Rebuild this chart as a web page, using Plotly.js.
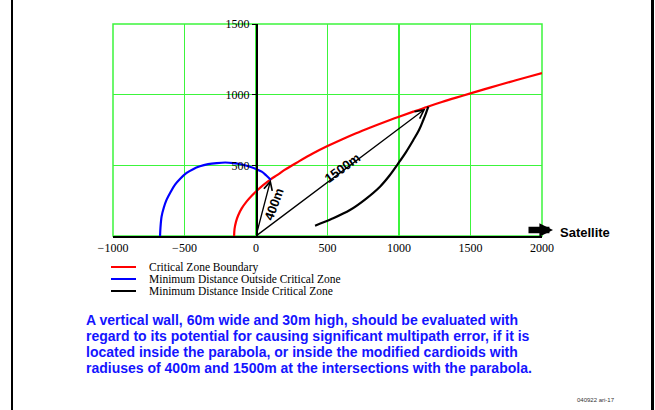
<!DOCTYPE html>
<html><head><meta charset="utf-8">
<script src="https://cdn.plot.ly/plotly-3.0.1.min.js"></script>
<style>html,body{margin:0;padding:0;background:#fff}#chart{width:655px;height:410px}</style>
</head><body><div id="chart"></div>
<script>
// ---- data ----
const xTicks = [-1000, -500, 0, 500, 1000, 1500, 2000];
const yTicks = [500, 1000, 1500];
const seriesNames = ['Critical Zone Boundary', 'Minimum Distance Outside Critical Zone', 'Minimum Distance Inside Critical Zone'];
const seriesColors = ['#ff0000', '#0000ff', '#000000'];

const boundaryX = [-153, -150, -140, -125, -100, -65, -25, 0, 50, 105, 150, 200, 300, 400, 500, 600, 700, 800, 900, 1000, 1100, 1200, 1300, 1400, 1500, 1600, 1700, 1800, 1900, 2000];
const boundaryY = [0, 50, 100, 145, 195, 245, 290, 315, 360, 403, 432, 468, 528, 585, 636, 683, 727, 768, 807, 844, 880, 915, 948, 979, 1009, 1039, 1068, 1097, 1125, 1153];

const outsideX = [-671, -668, -660, -645, -625, -598, -566, -530, -485, -440, -392, -335, -275, -215, -159, -100, -42, 0, 40, 72, 103];
const outsideY = [0, 60, 139, 200, 257, 310, 363, 405, 446, 473, 493, 508, 516, 520, 516, 506, 490, 474, 455, 428, 398];

const insideX = [413, 531, 657, 762, 867, 934, 995, 1049, 1100, 1140, 1170, 1189, 1205];
const insideY = [73, 122, 184, 258, 349, 428, 514, 594, 679, 750, 821, 870, 915];

const radiusLabels = ['400m', '1500m'];
const radiusTipX = [103, 1185];
const radiusTipY = [398, 900];
const radiusLabelX = [126, 599];
const radiusLabelY = [221, 481];
const radiusLabelAngle = [-70, -36];

const noteLines = [
  'A vertical wall, 60m wide and 30m high, should be evaluated with',
  'regard to its potential for causing significant multipath error, if it is',
  'located inside the parabola, or inside the modified cardioids with',
  'radiuses of 400m and 1500m at the intersections with the parabola.'
];
const footer = '040922 ari-17';
const satelliteLabel = 'Satellite';

// ---- layout helpers (pixel -> paper) ----
const W = 655, H = 410, ML = 113, MR = 113, MT = 24, MB = 174;
const PW = W - ML - MR, PH = H - MT - MB;
const px = v => (v - ML) / PW;
const py = v => (H - MB - v) / PH;

const serif = 'Liberation Serif, Times New Roman, serif';
const sans = 'Liberation Sans, Arial, sans-serif';

const traces = [
  {x: boundaryX, y: boundaryY},
  {x: outsideX, y: outsideY},
  {x: insideX, y: insideY}
].map((t, i) => ({
  x: t.x, y: t.y, type: 'scatter', mode: 'lines', name: seriesNames[i],
  line: {color: seriesColors[i], width: 2.2, shape: 'spline', smoothing: 1},
  showlegend: false, hoverinfo: 'skip'
}));

const annotations = [];
const shapes = [];

// radius arrows from origin
radiusLabels.forEach((lab, i) => {
  annotations.push({
    x: radiusTipX[i], y: radiusTipY[i], ax: 0, ay: 0, axref: 'x', ayref: 'y', xref: 'x', yref: 'y',
    showarrow: true, arrowhead: 5, arrowsize: 1.3, arrowwidth: 1.3, arrowcolor: '#000', standoff: 0, startstandoff: 0, text: ''
  });
  annotations.push({
    x: radiusLabelX[i], y: radiusLabelY[i], xref: 'x', yref: 'y', text: '<b>' + lab + '</b>', showarrow: false,
    textangle: radiusLabelAngle[i], font: {family: sans, size: 13, color: '#000'}
  });
});

// Satellite arrow + label
annotations.push({
  x: px(553), y: py(230), ax: px(527), ay: py(230), axref: 'paper', ayref: 'paper', xref: 'paper', yref: 'paper',
  showarrow: true, arrowhead: 2, arrowsize: 0.42, arrowwidth: 6.5, arrowcolor: '#000', standoff: 0, text: ''
});
annotations.push({
  x: px(558), y: py(232), xref: 'paper', yref: 'paper', xanchor: 'left', yanchor: 'middle',
  text: '<b>' + satelliteLabel + '</b>', showarrow: false, font: {family: sans, size: 13, color: '#000'}
});

// manual legend
const legendRows = [267, 279, 291];
seriesNames.forEach((n, i) => {
  shapes.push({type: 'line', xref: 'paper', yref: 'paper', x0: px(111), x1: px(136), y0: py(legendRows[i]), y1: py(legendRows[i]),
    line: {color: seriesColors[i], width: 2}});
  annotations.push({x: px(147), y: py(legendRows[i]), xref: 'paper', yref: 'paper', xanchor: 'left', yanchor: 'middle',
    text: n, showarrow: false, font: {family: serif, size: 11.5, color: '#000'}});
});

// note paragraph
const noteRows = [320, 336, 352, 368];
noteLines.forEach((t, i) => {
  annotations.push({x: px(84), y: py(noteRows[i]), xref: 'paper', yref: 'paper', xanchor: 'left', yanchor: 'middle',
    text: '<b>' + t + '</b>', showarrow: false, font: {family: sans, size: 14, color: '#1414ff'}});
});

annotations.push({x: px(596), y: py(400), xref: 'paper', yref: 'paper', xanchor: 'center', yanchor: 'middle',
  text: footer, showarrow: false, font: {family: sans, size: 6, color: '#333'}});

// green frame of plot area
shapes.push({type: 'rect', xref: 'paper', yref: 'paper', x0: 0, x1: 1, y0: 0, y1: 1, layer: 'below',
  line: {color: 'rgb(60,245,60)', width: 1.5}});
// page side borders
shapes.push({type: 'line', xref: 'paper', yref: 'paper', x0: px(12), x1: px(12), y0: py(0), y1: py(410), line: {color: '#000', width: 2}});
shapes.push({type: 'line', xref: 'paper', yref: 'paper', x0: px(652.5), x1: px(652.5), y0: py(0), y1: py(410), line: {color: '#000', width: 3}});

const layout = {
  width: W, height: H,
  margin: {l: ML, r: MR, t: MT, b: MB, pad: 0},
  paper_bgcolor: '#fff', plot_bgcolor: '#fff',
  showlegend: false,
  xaxis: {
    range: [-1000, 2000], tickvals: xTicks, ticks: '', showgrid: true, gridcolor: 'rgb(60,245,60)', gridwidth: 1.5,
    zeroline: false, showline: true, linecolor: '#000', linewidth: 1.5,
    tickfont: {family: serif, size: 12, color: '#000'}, fixedrange: true
  },
  yaxis: {
    range: [0, 1500], tickvals: yTicks, anchor: 'free', position: 1 / 3, ticks: 'outside', ticklen: 4, tickcolor: '#000',
    showgrid: true, gridcolor: 'rgb(60,245,60)', gridwidth: 1.5, zeroline: false, showline: true, linecolor: '#000', linewidth: 1.5,
    tickfont: {family: serif, size: 12, color: '#000'}, fixedrange: true
  },
  annotations: annotations,
  shapes: shapes
};

Plotly.newPlot('chart', traces, layout, {staticPlot: true, displayModeBar: false});
</script>
</body></html>
